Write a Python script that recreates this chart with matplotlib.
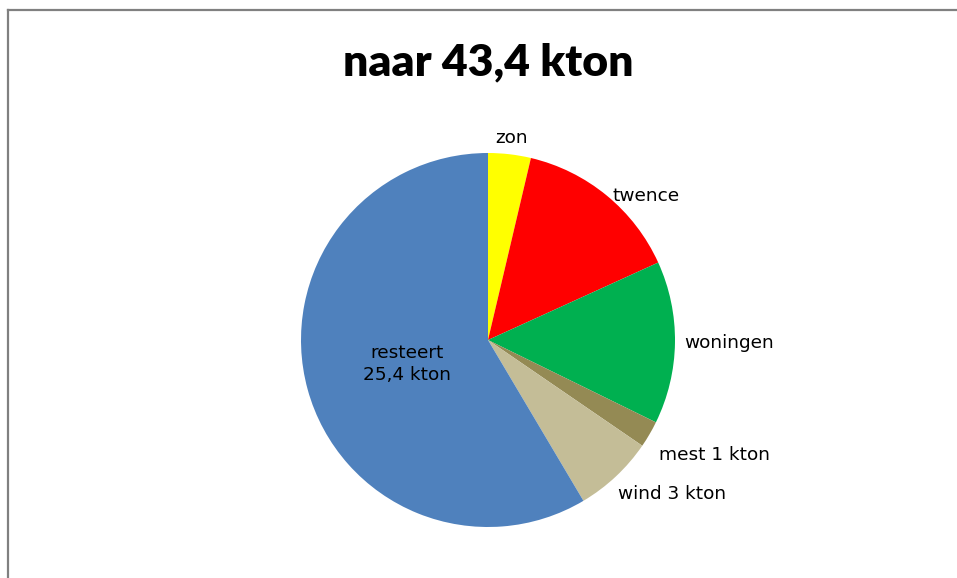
import numpy as np
import matplotlib
matplotlib.use('Agg')
import matplotlib.pyplot as plt
from matplotlib.lines import Line2D

# data (kton), clockwise from the top
labels = ['zon', 'twence', 'woningen', 'mest 1 kton', 'wind 3 kton', 'resteert\n25,4 kton']
values = [1.6, 6.3, 6.1, 1.0, 3.0, 25.4]
colors = ['#FFFF00', '#FF0000', '#00B050', '#948A54', '#C4BD97', '#4F81BD']
title = 'naar 43,4 kton'

W, H = 957, 578
fig = plt.figure(figsize=(W / 100, H / 100), dpi=100)

cx, cy, r = 488, 340, 187
ax = fig.add_axes([(cx - r) / W, (H - cy - r) / H, 2 * r / W, 2 * r / H])
wedges, _ = ax.pie(values, colors=colors, startangle=90, counterclock=False,
                   radius=1.0, wedgeprops=dict(linewidth=0))
ax.set_xlim(-1, 1)
ax.set_ylim(-1, 1)
ax.set_aspect('equal')
ax.axis('off')

# label placement: (distance, horizontal align, vertical shift)
place = [(1.09, 'center', 0.0), (1.05, 'left', -0.04), (1.05, 'left', 0.0),
         (1.06, 'left', -0.08), (1.02, 'left', -0.08), (0.45, 'center', -0.03)]
for w, lab, (d, ha, dy) in zip(wedges, labels, place):
    a = np.deg2rad((w.theta1 + w.theta2) / 2)
    x, y = d * np.cos(a), d * np.sin(a) + dy
    if d < 1:
        x, y = -0.433, -0.128
    ax.text(x, y, lab, ha=ha, va='center', fontsize=13.3, family='DejaVu Sans',
            color='black', linespacing=1.25)

fig.text(488 / W, 1 - 62 / H, title, ha='center', va='center', fontsize=32,
         fontweight='heavy', family='Lato')

# outer frame (left and top edges visible)
fig.add_artist(Line2D([8 / W, 8 / W], [0, 1 - 10 / H], transform=fig.transFigure,
                      color='#808080', lw=1.6))
fig.add_artist(Line2D([8 / W, 1], [1 - 10 / H, 1 - 10 / H], transform=fig.transFigure,
                      color='#808080', lw=1.6))

fig.savefig('out.png', dpi=100)
